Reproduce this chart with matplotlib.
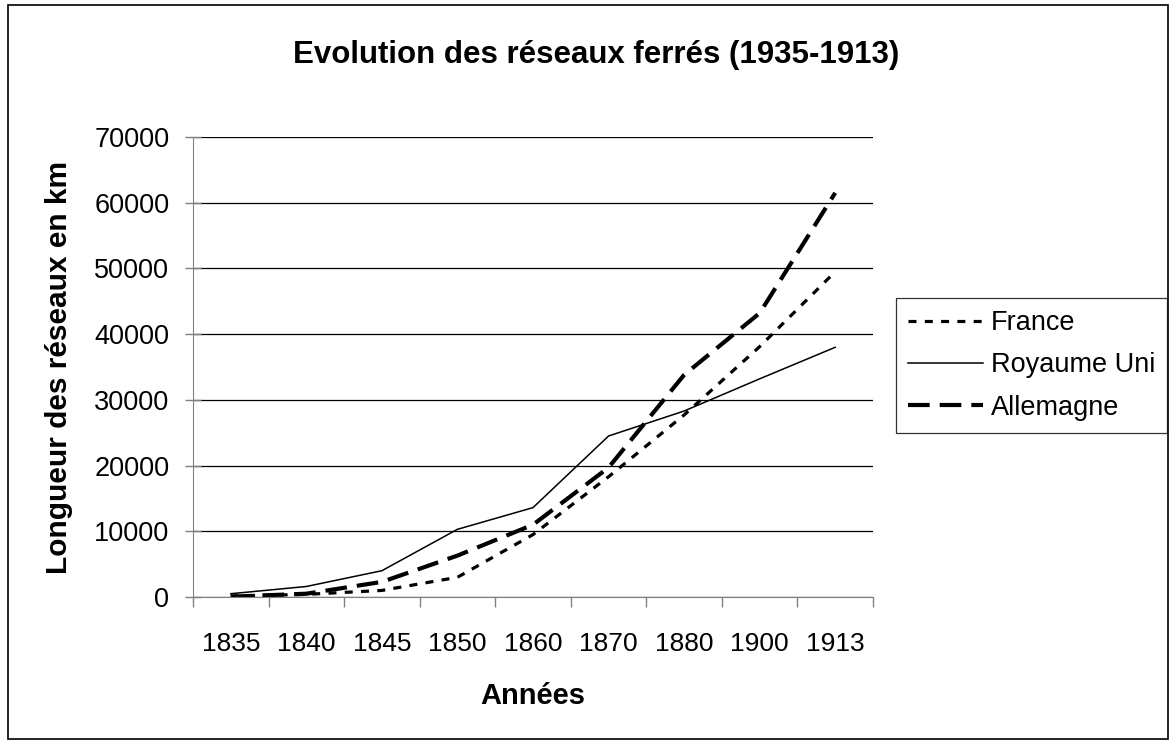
import matplotlib
matplotlib.use("Agg")
import matplotlib.pyplot as plt
from matplotlib.patches import Rectangle

annees = ["1835", "1840", "1845", "1850", "1860", "1870", "1880", "1900", "1913"]
france = [150, 400, 1000, 3000, 9500, 18300, 27700, 38100, 49500]
royaume_uni = [500, 1600, 4000, 10300, 13600, 24500, 28300, 33200, 38000]
allemagne = [50, 500, 2300, 6300, 11000, 19700, 33800, 43200, 61500]

plt.rcParams['font.family'] = ['Liberation Sans', 'DejaVu Sans']

W, H = 1171, 740
fig = plt.figure(figsize=(W / 100, H / 100), dpi=100)
ax = fig.add_axes([193 / W, 1 - 597 / H, 680 / W, 460 / H])

x = list(range(len(annees)))
ax.plot(x, france, color='black', lw=2.3, linestyle=(0, (2.5, 2.6)), label="France")
ax.plot(x, royaume_uni, color='black', lw=1.1, linestyle='-', label="Royaume Uni")
ax.plot(x, allemagne, color='black', lw=3.0, linestyle=(0, (5.2, 2.4)), label="Allemagne")

ax.set_xlim(-0.5, len(annees) - 0.5)
ax.set_ylim(0, 70000)
ax.set_yticks(range(0, 70001, 10000))
ax.set_yticklabels([str(v) for v in range(0, 70001, 10000)], fontsize=19.5)
ax.set_xticks([i - 0.5 for i in range(len(annees) + 1)])
ax.set_xticklabels([])
ax.set_xticks(x, minor=True)
ax.set_xticklabels(annees, minor=True, fontsize=19)
ax.tick_params(axis='x', which='minor', length=0, pad=25)
ax.tick_params(axis='x', which='major', length=7, color='#808080', width=1)
ax.tick_params(axis='y', direction='inout', length=12, color='#808080', width=1, pad=11)

ax.grid(axis='y', color='black', lw=0.9)
ax.set_axisbelow(True)
for s in ['top', 'right']:
    ax.spines[s].set_visible(False)
ax.spines['left'].set_color('#808080')
ax.spines['bottom'].set_color('#808080')

ax.set_xlabel("Années", fontsize=21, fontweight='bold', labelpad=19)
ax.set_ylabel("Longueur des réseaux en km", fontsize=21.5, fontweight='bold', labelpad=15)
fig.text(596 / W, 1 - 55 / H, "Evolution des réseaux ferrés (1935-1913)",
         fontsize=22.5, fontweight='bold', ha='center', va='center')

leg = fig.legend(loc='upper left', bbox_to_anchor=(896 / W, 1 - 298 / H),
                 fontsize=19.5, frameon=True, fancybox=False, edgecolor='black',
                 handlelength=2.75, handletextpad=0.3, borderpad=0.45, labelspacing=0.6,
                 borderaxespad=0)
leg.get_frame().set_linewidth(0.9)

fig.patches.append(Rectangle((7.5 / W, 1 / H), (1168 - 7.5) / W, (735 - 1) / H,
                             transform=fig.transFigure, fill=False, edgecolor='black', lw=1.2))

fig.savefig("out.png", dpi=100)
